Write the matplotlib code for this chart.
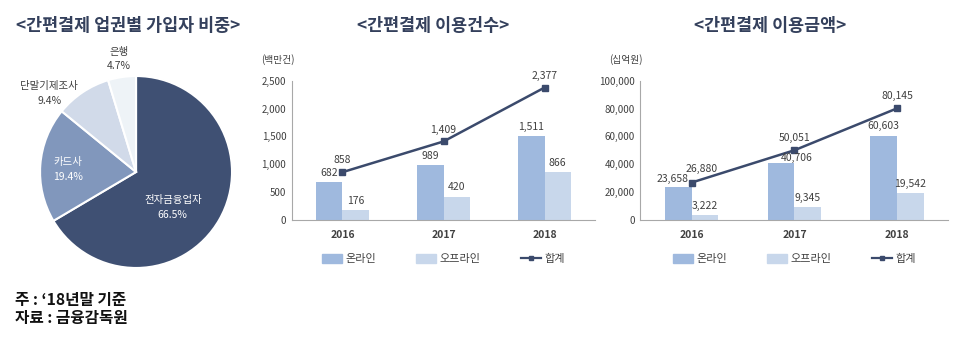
import numpy as np
import matplotlib
matplotlib.use("Agg")
import matplotlib.pyplot as plt
from matplotlib.patches import Patch
from matplotlib.lines import Line2D

plt.rcParams['font.family'] = ['Noto Sans CJK KR', 'DejaVu Sans']

# pie data
pie_labels = ['전자금융업자', '카드사', '단말기제조사', '은행']
pie_shares = [66.5, 19.4, 9.4, 4.7]

# bar/line data
years = ['2016', '2017', '2018']
count_online = [682, 989, 1511]
count_offline = [176, 420, 866]
count_total = [858, 1409, 2377]
amount_online = [23658, 40706, 60603]
amount_offline = [3222, 9345, 19542]
amount_total = [26880, 50051, 80145]

NAVY = '#3b4a6c'
TITLE = '#34405c'
C_ON = '#9fb9de'
C_OFF = '#c8d7eb'
GRID = '#a8a8a8'
TXT = '#404040'

fig = plt.figure(figsize=(9.6, 3.44), dpi=100)

# ---- pie ----
axp = fig.add_axes([0.0417, 0.221, 0.2, 0.558])
wedges, _ = axp.pie(pie_shares, startangle=90, counterclock=False,
                    colors=['#3f5073', '#8197bc', '#d1dae9', '#eef3f7'],
                    wedgeprops=dict(edgecolor='white', linewidth=1.5))
axp.set_xlim(-1, 1)
axp.set_ylim(-1, 1)
axp.set_aspect('equal')

dist = [0.53, 0.71, 1.22, 1.19]
nudge = [-14, 2, 14, 0]
tcol = ['white', 'white', '#404040', '#404040']
for w, lab, val, d, n, c in zip(wedges, pie_labels, pie_shares, dist, nudge, tcol):
    ang = np.deg2rad((w.theta1 + w.theta2) / 2 + n)
    x, y = d * np.cos(ang), d * np.sin(ang)
    axp.text(x, y, lab + '\n' + f'{val}%', ha='center', va='center',
             fontsize=7.5, color=c, linespacing=1.6, clip_on=False)

fig.text(0.133, 0.925, '<간편결제 업권별 가입자 비중>', ha='center', va='center',
         fontsize=12.5, fontweight='bold', color=TITLE)
fig.text(0.016, 0.128, '주 : ‘18년말 기준', fontsize=11.3, fontweight='bold',
         color='#111111', va='center')
fig.text(0.016, 0.075, '자료 : 금융감독원', fontsize=11.3, fontweight='bold',
         color='#111111', va='center')


def combo(rect, online, offline, total, ymax, step, unit, title, title_x, lab_off):
    ax = fig.add_axes(rect)
    x = np.arange(len(years))
    w = 0.26
    ax.bar(x - w / 2, online, w, color=C_ON)
    ax.bar(x + w / 2, offline, w, color=C_OFF)
    ax.plot(x, total, color=NAVY, lw=1.8, marker='s', ms=4)
    ax.set_xlim(-0.5, 2.5)
    ax.set_ylim(0, ymax)
    ax.set_yticks(np.arange(0, ymax + 1, step))
    ax.set_yticklabels([f'{v:,}' for v in np.arange(0, ymax + 1, step)])
    ax.set_xticks(x)
    ax.set_xticklabels(years, fontweight='bold')
    for s in ['top', 'right']:
        ax.spines[s].set_visible(False)
    for s in ['left', 'bottom']:
        ax.spines[s].set_color(GRID)
        ax.spines[s].set_linewidth(0.8)
    ax.tick_params(axis='y', length=0, labelsize=7, labelcolor=TXT, pad=4)
    ax.tick_params(axis='x', length=0, labelsize=7.5, labelcolor=TXT, pad=7)

    # value labels: (online dx, online dy, total dx, total dy) in points
    for i in range(len(years)):
        dxo, dyo, dxt, dyt = lab_off[i]
        ax.annotate(f'{online[i]:,}', (x[i] - w / 2, online[i]),
                    xytext=(dxo, dyo), textcoords='offset points',
                    ha='center', va='bottom', fontsize=7.5, color=TXT)
        ax.annotate(f'{offline[i]:,}', (x[i] + w / 2, offline[i]),
                    xytext=(0, 3), textcoords='offset points',
                    ha='center', va='bottom', fontsize=7.5, color=TXT)
        ax.annotate(f'{total[i]:,}', (x[i], total[i]),
                    xytext=(dxt, dyt), textcoords='offset points',
                    ha='center', va='bottom', fontsize=7.5, color=TXT)

    ax.text(-0.1, 1.15, unit, transform=ax.transAxes, ha='left', va='center',
            fontsize=7, color=TXT)
    fig.text(title_x, 0.925, title, ha='center', va='center',
             fontsize=12.5, fontweight='bold', color=TITLE)

    handles = [Patch(color=C_ON, label='온라인'),
               Patch(color=C_OFF, label='오프라인'),
               Line2D([], [], color=NAVY, lw=1.6, marker='s', ms=3.5, label='합계')]
    ax.legend(handles=handles, ncol=3, loc='upper center',
              bbox_to_anchor=(0.5, -0.175), frameon=False, fontsize=8,
              columnspacing=3.6, handlelength=1.8, handleheight=0.8,
              handletextpad=0.3, labelcolor=TXT)
    return ax


combo([0.304, 0.3605, 0.316, 0.405], count_online, count_offline, count_total,
      2500, 500, '(백만건)', '<간편결제 이용건수>', 0.451,
      [(0, 3, 0, 5), (0, 3, 0, 5), (0, 3, 0, 5)])
combo([0.667, 0.3605, 0.321, 0.405], amount_online, amount_offline, amount_total,
      100000, 20000, '(십억원)', '<간편결제 이용금액>', 0.802,
      [(-4, 2, 7, 6), (11, 0, 0, 5), (0, 3, 0, 5)])

fig.savefig('out.png', dpi=100, facecolor='white')
